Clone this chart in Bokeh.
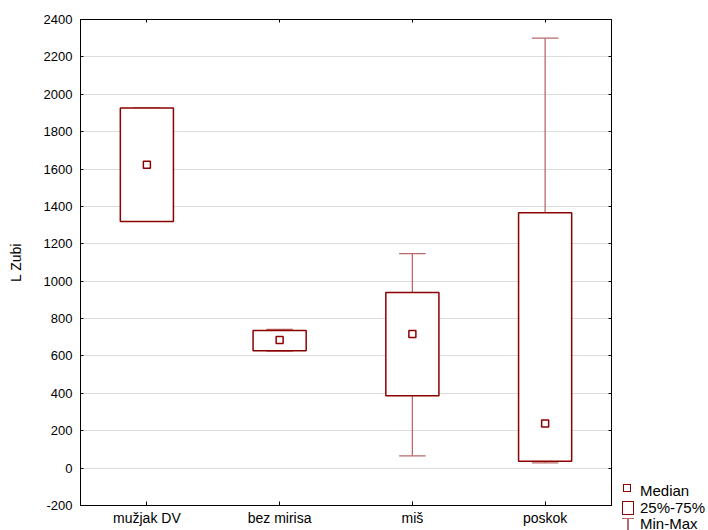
from bokeh.plotting import figure
from bokeh.layouts import row
from bokeh.models import (FactorRange, Range1d, LinearAxis, CategoricalAxis, ColumnDataSource,
                          FixedTicker, Div)
from bokeh.transform import dodge
from bokeh.embed import file_html
from bokeh.resources import INLINE

categories = ["mužjak DV", "bez mirisa", "miš", "poskok"]
q1 = [1320, 628, 387, 37]
q3 = [1927, 736, 940, 1366]
median = [1623, 685, 717, 239]
minimum = [1320, 626, 66, 28]
maximum = [1927, 742, 1148, 2300]
y_ticks = [-200, 0, 200, 400, 600, 800, 1000, 1200, 1400, 1600, 1800, 2000, 2200, 2400]
y_label = "L Zubi"
legend_labels = ["Median", "25%-75%", "Min-Max"]

BOX = "#8b0000"
WHISK = "#b86a6a"
FONT = "Liberation Sans"

src = ColumnDataSource(dict(cat=categories, q1=q1, q3=q3, med=median, mn=minimum, mx=maximum))

p = figure(width=615, height=530, x_range=FactorRange(*categories), y_range=Range1d(-200, 2400),
           output_backend="svg", toolbar_location=None,
           min_border_left=80, min_border_right=4, min_border_top=19, min_border_bottom=25)

# whiskers
p.segment(x0="cat", y0="q3", x1="cat", y1="mx", source=src, line_color=WHISK, line_width=1.3)
p.segment(x0="cat", y0="q1", x1="cat", y1="mn", source=src, line_color=WHISK, line_width=1.3)
p.segment(x0=dodge("cat", -0.1, range=p.x_range), y0="mx", x1=dodge("cat", 0.1, range=p.x_range), y1="mx",
          source=src, line_color=WHISK, line_width=1.3)
p.segment(x0=dodge("cat", -0.1, range=p.x_range), y0="mn", x1=dodge("cat", 0.1, range=p.x_range), y1="mn",
          source=src, line_color=WHISK, line_width=1.3)
# boxes
p.vbar(x="cat", top="q3", bottom="q1", width=0.4, source=src, fill_color="white",
       line_color=BOX, line_width=1.5)
# medians
p.scatter(x="cat", y="med", source=src, marker="square", size=7, fill_color="white",
          line_color=BOX, line_width=1.5)

p.xgrid.visible = False
p.ygrid.grid_line_color = "#dcdcdc"
p.ygrid.ticker = FixedTicker(ticks=y_ticks)
p.outline_line_color = "black"
p.outline_line_width = 1

p.yaxis.ticker = FixedTicker(ticks=y_ticks)
p.yaxis.axis_label = y_label
p.yaxis.major_label_overrides = {-200: "-200"}
for ax in (p.xaxis[0], p.yaxis[0]):
    ax.axis_line_color = "black"
    ax.major_tick_line_color = "black"
    ax.major_tick_in = 3
    ax.major_tick_out = 0
    ax.minor_tick_line_color = None
    ax.major_label_text_font = FONT
    ax.major_label_text_color = "black"
    ax.axis_label_text_font = FONT
    ax.axis_label_text_font_size = "14px"
    ax.axis_label_text_font_style = "normal"
    ax.axis_label_text_color = "black"
p.xaxis.major_label_text_font_size = "14px"
p.yaxis.major_label_text_font_size = "13px"
p.xaxis.major_label_standoff = 4
p.xaxis.major_tick_in = 4
p.yaxis.major_label_standoff = 8
p.yaxis.axis_label_standoff = 17

right = LinearAxis(ticker=FixedTicker(ticks=y_ticks), major_label_text_font_size="1px",
                   major_label_text_color=None, major_label_standoff=0,
                   major_tick_in=3, major_tick_out=0,
                   minor_tick_line_color=None, axis_line_color="black")
p.add_layout(right, "right")
top = CategoricalAxis(major_label_text_font_size="1px", major_label_text_color=None,
                      major_label_standoff=0, major_tick_in=3, major_tick_out=0,
                      axis_line_color="black")
p.add_layout(top, "above")

# legend (HTML, placed to the right of the plot frame)
def txt(label, top_px):
    return (f'<div style="position:absolute;left:25px;top:{top_px}px;line-height:17px;'
            f'white-space:nowrap;">{label}</div>')

legend_html = (
    f'<div style="position:relative;width:93px;height:530px;overflow:hidden;'
    f'font-family:\'{FONT}\';font-size:15px;color:black;">'
    f'<div style="position:absolute;left:8px;top:484px;width:8px;height:8px;box-sizing:border-box;'
    f'border:1.5px solid {BOX};background:white;"></div>'
    + txt(legend_labels[0], 482) +
    f'<div style="position:absolute;left:7px;top:501px;width:12px;height:14px;box-sizing:border-box;'
    f'border:1.5px solid {BOX};background:white;"></div>'
    + txt(legend_labels[1], 498.5) +
    f'<div style="position:absolute;left:7px;top:517.5px;width:12px;height:1.3px;background:{WHISK};"></div>'
    f'<div style="position:absolute;left:12.4px;top:517.5px;width:1.3px;height:14px;background:{WHISK};"></div>'
    + txt(legend_labels[2], 514.5) +
    '</div>'
)
leg = Div(text=legend_html, width=93, height=530, margin=0)

layout = row(p, leg, spacing=0)
open("out.html", "w").write(file_html(layout, INLINE))
